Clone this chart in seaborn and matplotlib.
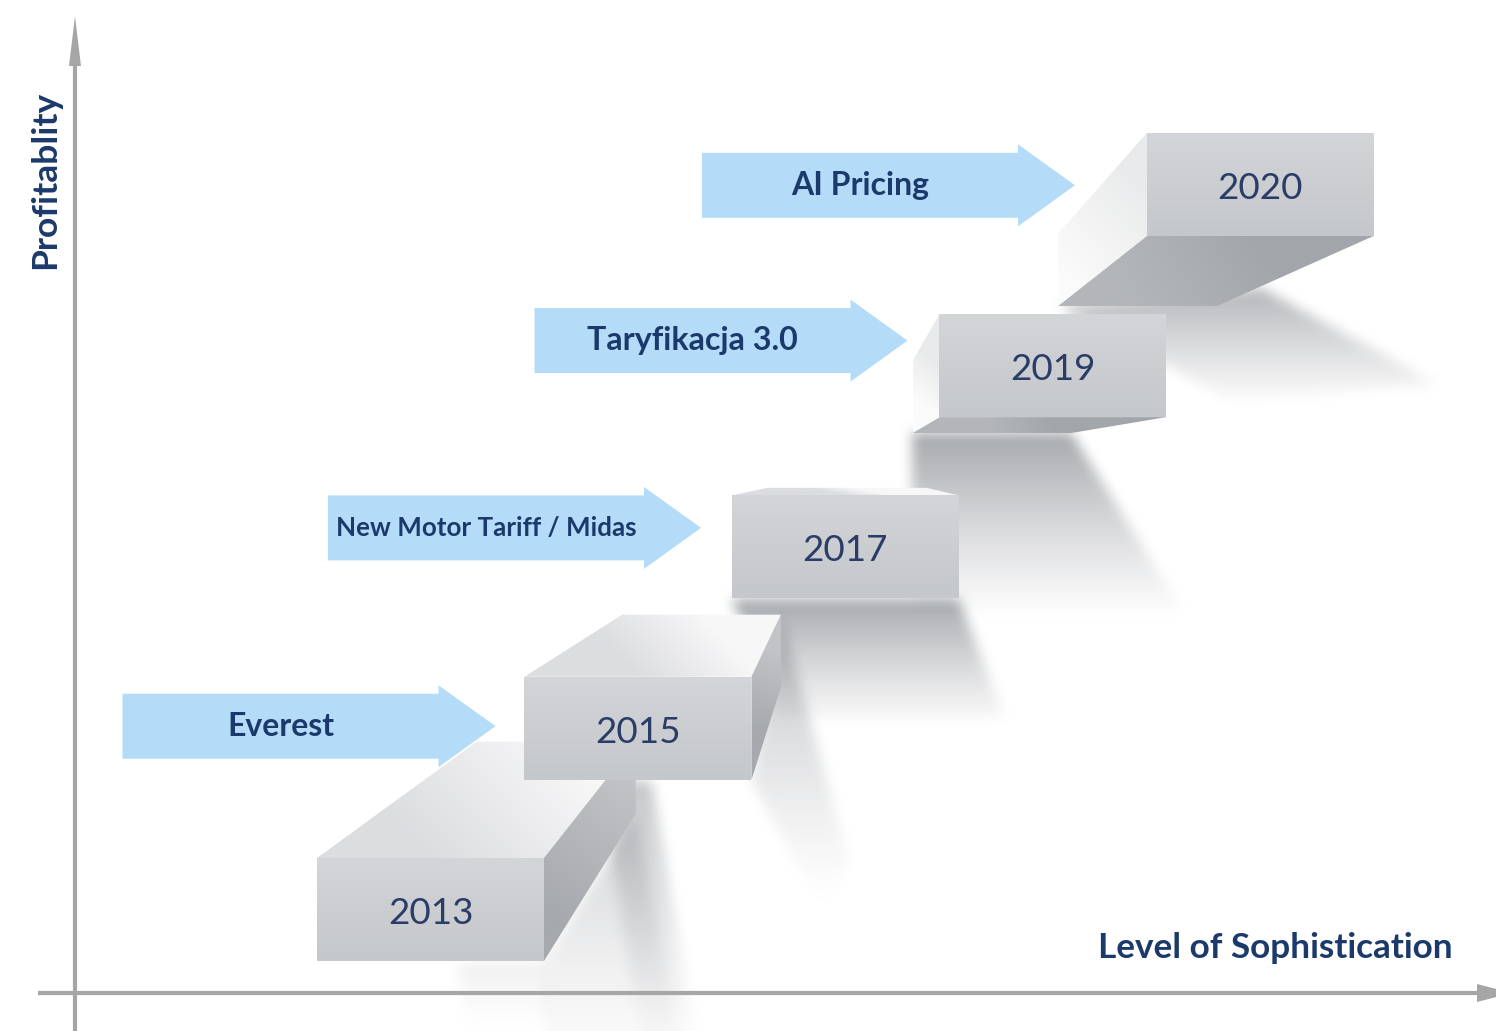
import numpy as np
import matplotlib
matplotlib.use("Agg")
import matplotlib.pyplot as plt
import seaborn as sns
from matplotlib.patches import Polygon
from matplotlib.path import Path
from matplotlib.colors import to_rgba, to_rgb

# --- chart content ---
YEARS = ["2013", "2015", "2017", "2019", "2020"]
SOPHISTICATION = [0, 1, 2, 3, 4]   # step along the x axis
PROFITABILITY = [0, 1, 2, 3, 4]    # step along the y axis
INITIATIVES = ["Everest", "New Motor Tariff / Midas", "Taryfikacja 3.0", "AI Pricing"]
INITIATIVE_TARGET = ["2015", "2017", "2019", "2020"]
X_LABEL = "Level of Sophistication"
Y_LABEL = "Profitablity"

# --- layout (canvas in pixel units, y grows downwards) ---
W, H = 1496, 1031
X0, Y0 = 317, 858          # front top-left corner of the first step
DX, DY = 207.5, 181.3      # offset between steps
BW, BH = 227, 103          # front face size
VP = np.array([850.0, 470.0])   # vanishing point for the box depth
DEPTH = 0.7
ARROW_GAP = [29, 31, 32, 72]
ARROW_DY = [-2, -19, -25, 1]
ARROW_FS = [23, 18.7, 23.2, 23]

NAVY = "#1b3a6b"
YEAR_COLOR = "#2a3d66"
AXIS_GREY = "#a6a6a6"
ARROW_BLUE = "#b4dcf9"
SHADOW_GREY = "#80848a"


def gradient_poly(ax, pts, c0, c1, p0, p1, a0=1.0, a1=1.0, zorder=1):
    pts = np.asarray(pts, float)
    xmin, ymin = pts.min(axis=0)
    xmax, ymax = pts.max(axis=0)
    xs = np.linspace(xmin, xmax, 120)
    ys = np.linspace(ymin, ymax, 120)
    X, Y = np.meshgrid(xs, ys)
    p0 = np.asarray(p0, float)
    d = np.asarray(p1, float) - p0
    t = ((X - p0[0]) * d[0] + (Y - p0[1]) * d[1]) / (d @ d)
    t = np.clip(t, 0, 1)[..., None]
    r0 = np.array(to_rgba(c0, a0))
    r1 = np.array(to_rgba(c1, a1))
    img = (1 - t) * r0 + t * r1
    im = ax.imshow(img, extent=(xmin, xmax, ymax, ymin), origin="upper",
                   interpolation="bilinear", zorder=zorder)
    clip = Polygon(pts, closed=True, facecolor="none", edgecolor="none",
                   transform=ax.transData)
    ax.add_patch(clip)
    im.set_clip_path(clip)


def box_blur(a, r, axis):
    widths = [(r, r) if k == axis else (0, 0) for k in range(2)]
    c = np.cumsum(np.pad(a, widths, mode="edge"), axis=axis)
    c = np.insert(c, 0, 0, axis=axis)
    n = a.shape[axis]
    if axis == 0:
        return (c[2 * r + 1:2 * r + 1 + n] - c[:n]) / (2 * r + 1)
    return (c[:, 2 * r + 1:2 * r + 1 + n] - c[:, :n]) / (2 * r + 1)


def back(p):
    return VP + DEPTH * (np.asarray(p, float) - VP)


def box_corners(s, p):
    x = X0 + DX * s
    y = Y0 - DY * p
    tl = np.array([x, y]); tr = np.array([x + BW, y])
    br = np.array([x + BW, y + BH]); bl = np.array([x, y + BH])
    return tl, tr, br, bl


def shadow_shapes(boxes):
    # (polygon, y where the shadow starts, fade length, start alpha)
    out = []
    tl, tr, br, bl = boxes[YEARS[0]]
    out.append(([br, back(br), back(br) + (45, 230), br + (0, 90)], back(br)[1], 260, 0.35))
    out.append(([bl + (140, 0), br, br + (10, 80), bl + (150, 80)], br[1], 70, 0.12))
    tl, tr, br, bl = boxes[YEARS[1]]
    out.append(([br - (152, 0), br - (100, 0), br + (-57, 251), br + (-112, 251)], br[1], 280, 0.45))
    out.append(([back(tr), back(tr) + (68, 245), br + (70, 130), br], back(tr)[1], 290, 0.5))
    tl, tr, br, bl = boxes[YEARS[2]]
    out.append(([bl, br, br + (46, 120), bl + (46, 120)], bl[1], 135, 0.7))
    tl, tr, br, bl = boxes[YEARS[3]]
    a, b = back(bl), back(br)
    out.append(([a, b, b + (113, 180), a + (0, 180)], a[1], 190, 0.7))
    tl, tr, br, bl = boxes[YEARS[4]]
    a, b = back(bl), back(br)
    out.append(([a, b + (45, -18), b + (220, 77), a + (175, 95)], a[1] - 18, 125, 0.6))
    return out


sns.set_theme(style="white")
plt.rcParams["font.family"] = ["Lato", "DejaVu Sans"]

fig = plt.figure(figsize=(W / 100, H / 100), dpi=100)
ax = fig.add_axes([0, 0, 1, 1])
ax.set_facecolor("white")

boxes = {}
for yr, s, p in zip(YEARS, SOPHISTICATION, PROFITABILITY):
    boxes[yr] = box_corners(s, p)

# shadow streaks fading downwards (rasterised at half size, lightly blurred)
gw, gh = W // 2, H // 2
GX, GY = np.meshgrid((np.arange(gw) + 0.5) * 2, (np.arange(gh) + 0.5) * 2)
grid = np.column_stack([GX.ravel(), GY.ravel()])
shade = np.zeros((gh, gw))
for quad, ytop, length, a0 in shadow_shapes(boxes):
    inside = Path(np.array(quad, float)).contains_points(grid).reshape(gh, gw)
    t = np.clip((GY - ytop) / length, 0, 1)
    alpha = inside * a0 * (1 - t) ** 1.2
    shade = 1 - (1 - shade) * (1 - alpha)
for _ in range(2):
    shade = box_blur(box_blur(shade, 3, 0), 3, 1)
shadow_img = np.zeros((gh, gw, 4))
shadow_img[..., :3] = to_rgb(SHADOW_GREY)
shadow_img[..., 3] = shade
ax.imshow(shadow_img, extent=(0, W, H, 0), origin="upper",
          interpolation="bilinear", zorder=1)

# receding faces
for yr in YEARS:
    tl, tr, br, bl = boxes[yr]
    if tl[1] > VP[1]:   # top face visible
        q = [tl, tr, back(tr), back(tl)]
        m0 = (tl + tr) / 2
        gradient_poly(ax, q, "#dcdde0", "#f7f7f8", m0, back(m0), zorder=2)
    if bl[1] < VP[1]:   # bottom face visible
        q = [bl, br, back(br), back(bl)]
        m0 = (bl + br) / 2
        gradient_poly(ax, q, "#a2a6aa", "#b3b6b9", m0, back(m0), zorder=2)
    if tl[0] > VP[0]:   # left face visible
        q = [tl, bl, back(bl), back(tl)]
        m0 = (tl + bl) / 2
        gradient_poly(ax, q, "#e9eaeb", "#fbfbfb", m0, back(m0), zorder=2)
    if tr[0] < VP[0]:   # right face visible
        q = [tr, br, back(br), back(tr)]
        m0 = (tr + br) / 2
        gradient_poly(ax, q, "#a6a9ad", "#c2c4c7", m0, back(m0), zorder=2)

# front faces with year labels
for yr in YEARS:
    tl, tr, br, bl = boxes[yr]
    gradient_poly(ax, [tl, tr, br, bl], "#d3d5d8", "#c4c7cb", tl, bl, zorder=3)
    c = (tl + br) / 2
    ax.text(c[0], c[1] + 4, yr, ha="center", va="center", fontsize=26.5,
            color=YEAR_COLOR, zorder=6)

# initiative arrows pointing at the step they led to
for i, (name, target) in enumerate(zip(INITIATIVES, INITIATIVE_TARGET)):
    tl, tr, br, bl = boxes[target]
    tip = tl[0] - ARROW_GAP[i]
    yc = (tl[1] + bl[1]) / 2 + ARROW_DY[i]
    xr = tip - 57
    xl = tip - 373
    pts = [(xl, yc - 32.5), (xr, yc - 32.5), (xr, yc - 41), (tip, yc),
           (xr, yc + 41), (xr, yc + 32.5), (xl, yc + 32.5)]
    ax.add_patch(Polygon(pts, closed=True, facecolor=ARROW_BLUE,
                         edgecolor="none", zorder=4))
    ax.text((xl + xr) / 2, yc, name, ha="center", va="center",
            fontsize=ARROW_FS[i], fontweight="bold", color=NAVY, zorder=6)

# axes drawn as grey arrows
ax.plot([75, 75], [H, 60], color=AXIS_GREY, lw=3, solid_capstyle="butt", zorder=5)
ax.add_patch(Polygon([(69, 66), (81, 66), (75, 16)], closed=True,
                     facecolor=AXIS_GREY, edgecolor="none", zorder=5))
ax.plot([38, 1480], [993, 993], color=AXIS_GREY, lw=3, solid_capstyle="butt", zorder=5)
ax.add_patch(Polygon([(1477, 984), (1477, 1002), (1512, 993)], closed=True,
                     facecolor=AXIS_GREY, edgecolor="none", zorder=5))

ax.text(45, 180, Y_LABEL, rotation=90, ha="center", va="center",
        fontsize=25.5, fontweight="bold", color=NAVY, zorder=6)
ax.text(1453, 948, X_LABEL, ha="right", va="center",
        fontsize=25.3, fontweight="bold", color=NAVY, zorder=6)

ax.set_xlim(0, W)
ax.set_ylim(H, 0)
ax.set_aspect("auto")
ax.axis("off")

fig.savefig("out.png", dpi=100, facecolor="white")
